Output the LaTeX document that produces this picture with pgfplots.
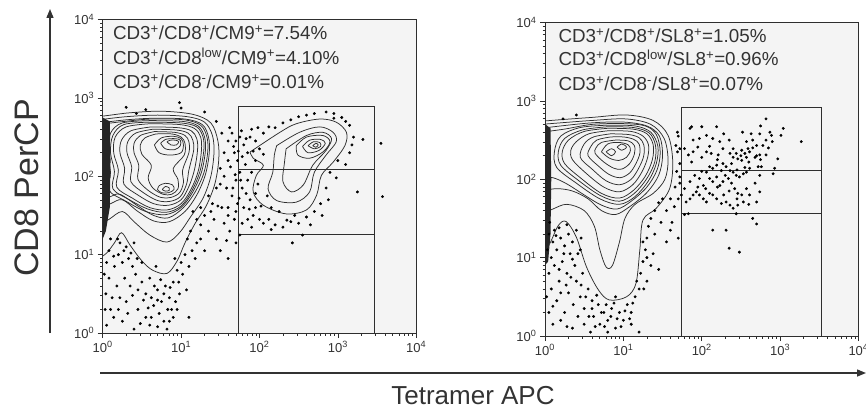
\documentclass[border=0pt]{standalone}
\usepackage{fontspec}
\setmainfont{Liberation Sans}
\usepackage{pgfplots}
\pgfplotsset{compat=1.18}
\usetikzlibrary{arrows.meta}
\definecolor{bg}{HTML}{F4F4F4}
\definecolor{ct}{HTML}{2E2E2E}
\definecolor{tx}{HTML}{333333}
\tikzset{lab/.style={anchor=base west, font=\fontsize{18.8}{20}\selectfont, text=tx, inner sep=0pt}}
\pgfplotsset{
 flow/.style={
  scale only axis, width=313.5pt, height=313.5pt,
  xmin=0,xmax=4,ymin=0,ymax=4,
  axis background/.style={fill=bg},
  axis line style={draw=ct, line width=0.8pt},
  xtick={0,1,2,3,4}, ytick={0,1,2,3,4},
  xticklabels={10\textsuperscript{0},10\textsuperscript{1},10\textsuperscript{2},10\textsuperscript{3},10\textsuperscript{4}},
  yticklabels={10\textsuperscript{0},10\textsuperscript{1},10\textsuperscript{2},10\textsuperscript{3},10\textsuperscript{4}},
  minor xtick={0.301,0.477,0.602,0.699,0.778,0.845,0.903,0.954,1.301,1.477,1.602,1.699,1.778,1.845,1.903,1.954,2.301,2.477,2.602,2.699,2.778,2.845,2.903,2.954,3.301,3.477,3.602,3.699,3.778,3.845,3.903,3.954},
  minor ytick={0.301,0.477,0.602,0.699,0.778,0.845,0.903,0.954,1.301,1.477,1.602,1.699,1.778,1.845,1.903,1.954,2.301,2.477,2.602,2.699,2.778,2.845,2.903,2.954,3.301,3.477,3.602,3.699,3.778,3.845,3.903,3.954},
  tick pos=left, tick align=outside,
  major tick length=5pt, minor tick length=2.5pt,
  tick style={draw=ct, line width=0.6pt},
  tick label style={font=\fontsize{13}{13}\selectfont, text=tx},
 },
 cont/.style={draw=ct, line width=0.75pt, smooth, tension=0.55, mark=none},
 dots/.style={only marks, mark=*, mark size=1.25pt, draw=black, fill=black},
 gate/.style={draw=ct, line width=0.9pt, mark=none, sharp plot},
}
\begin{document}
\begin{tikzpicture}
\useasboundingbox (0,0) rectangle (866pt,413pt);
% ---------------- left panel ----------------
\begin{axis}[flow, at={(102.7pt,80pt)}, anchor=south west]
% main population contours
\addplot[cont] coordinates {(-0.05,0.95)(0.05,1.02)(0.15,1.15)(0.24,1.28)(0.35,1.12)(0.5,0.92)(0.64,0.80)(0.82,0.76)(0.95,0.92)(1.05,1.15)(1.18,1.40)(1.32,1.62)(1.43,1.9)(1.48,2.2)(1.47,2.45)(1.38,2.68)(1.15,2.79)(0.75,2.83)(0.35,2.81)(0.1,2.78)(-0.05,2.76)};
\addplot[cont] coordinates {(-0.05,1.38)(0.08,1.45)(0.25,1.55)(0.4,1.42)(0.6,1.25)(0.82,1.16)(0.98,1.28)(1.12,1.48)(1.28,1.72)(1.38,2.0)(1.42,2.3)(1.4,2.52)(1.3,2.69)(1.08,2.76)(0.7,2.78)(0.3,2.76)(-0.05,2.72)};
\addplot[cont] coordinates {(-0.05,1.6)(0.1,1.65)(0.25,1.7)(0.45,1.55)(0.65,1.43)(0.85,1.42)(1.05,1.55)(1.2,1.76)(1.31,2.02)(1.36,2.3)(1.35,2.5)(1.27,2.66)(1.05,2.73)(0.65,2.74)(0.3,2.72)(-0.05,2.68)};
\addplot[cont] coordinates {(-0.05,1.7)(0.1,1.74)(0.22,1.77)(0.45,1.62)(0.65,1.5)(0.84,1.47)(1.03,1.6)(1.18,1.8)(1.29,2.04)(1.34,2.31)(1.33,2.5)(1.25,2.65)(1.04,2.72)(0.62,2.73)(0.28,2.7)(-0.05,2.66)};
\addplot[cont] coordinates {(0.6,2.71)(0.25,2.68)(0.1,2.55)(0.06,2.3)(0.1,2.05)(0.08,1.82)(0.3,1.68)(0.55,1.55)(0.8,1.51)(1.0,1.6)(1.15,1.8)(1.26,2.05)(1.31,2.32)(1.3,2.5)(1.22,2.64)(1.02,2.7)(0.6,2.71)};
\addplot[cont] coordinates {(0.6,2.69)(0.27,2.66)(0.13,2.52)(0.1,2.3)(0.15,2.06)(0.13,1.84)(0.34,1.7)(0.58,1.58)(0.81,1.54)(1.0,1.62)(1.14,1.82)(1.24,2.06)(1.29,2.33)(1.28,2.5)(1.2,2.63)(1.0,2.68)(0.6,2.69)};
\addplot[cont] coordinates {(0.6,2.67)(0.3,2.63)(0.16,2.5)(0.14,2.3)(0.2,2.08)(0.18,1.86)(0.38,1.72)(0.6,1.6)(0.82,1.57)(1.0,1.65)(1.13,1.84)(1.22,2.07)(1.26,2.33)(1.25,2.5)(1.17,2.61)(0.98,2.66)(0.6,2.67)};
\addplot[cont] coordinates {(0.62,2.63)(0.36,2.58)(0.24,2.46)(0.22,2.3)(0.28,2.1)(0.27,1.9)(0.45,1.76)(0.65,1.65)(0.84,1.63)(1.0,1.7)(1.1,1.87)(1.17,2.08)(1.21,2.33)(1.2,2.48)(1.13,2.58)(0.96,2.62)(0.62,2.63)};
\addplot[cont] coordinates {(0.64,2.6)(0.42,2.55)(0.32,2.44)(0.31,2.3)(0.37,2.12)(0.36,1.93)(0.52,1.79)(0.7,1.69)(0.86,1.68)(0.99,1.74)(1.07,1.9)(1.1,2.08)(1.16,2.33)(1.15,2.46)(1.09,2.55)(0.94,2.59)(0.64,2.6)};
\addplot[cont] coordinates {(0.66,2.57)(0.48,2.52)(0.4,2.42)(0.4,2.3)(0.46,2.14)(0.45,1.96)(0.58,1.82)(0.74,1.73)(0.87,1.73)(0.98,1.79)(1.03,1.92)(1.02,2.08)(1.1,2.3)(1.1,2.44)(1.05,2.52)(0.92,2.56)(0.66,2.57)};
\addplot[cont] coordinates {(0.68,2.54)(0.54,2.49)(0.48,2.4)(0.5,2.28)(0.62,2.14)(0.58,1.98)(0.64,1.85)(0.77,1.77)(0.88,1.77)(0.96,1.84)(0.96,1.96)(0.9,2.1)(1.04,2.27)(1.05,2.42)(1.0,2.5)(0.88,2.54)(0.68,2.54)};
\addplot[cont] coordinates {(0.66,2.4)(0.72,2.3)(0.86,2.27)(1.0,2.3)(1.03,2.4)(1.0,2.48)(0.9,2.51)(0.75,2.49)(0.66,2.4)};
\addplot[cont] coordinates {(0.74,2.42)(0.8,2.35)(0.92,2.34)(0.99,2.39)(0.99,2.46)(0.92,2.48)(0.8,2.47)(0.74,2.42)};
\addplot[cont] coordinates {(0.82,2.44)(0.87,2.40)(0.94,2.40)(0.97,2.44)(0.93,2.46)(0.86,2.46)(0.82,2.44)};
\addplot[cont] coordinates {(0.7,1.83)(0.75,1.79)(0.84,1.79)(0.91,1.83)(0.89,1.89)(0.8,1.91)(0.72,1.88)(0.7,1.83)};
\addplot[cont] coordinates {(0.76,1.83)(0.8,1.81)(0.85,1.82)(0.85,1.85)(0.8,1.87)(0.76,1.83)};
% tetramer+ population contours
\addplot[cont] coordinates {(1.88,2.31)(2.26,2.56)(2.47,2.67)(2.77,2.73)(2.98,2.69)(3.11,2.56)(3.09,2.39)(2.94,2.18)(2.79,2.01)(2.73,1.76)(2.60,1.57)(2.34,1.52)(2.05,1.63)(1.92,1.80)(1.96,2.01)(2.05,2.14)(1.92,2.23)(1.88,2.31)};
\addplot[cont] coordinates {(2.22,2.39)(2.51,2.56)(2.77,2.63)(2.94,2.56)(2.98,2.44)(2.85,2.27)(2.70,2.05)(2.64,1.80)(2.47,1.67)(2.22,1.69)(2.11,1.84)(2.17,2.05)(2.19,2.27)(2.22,2.39)};
\addplot[cont] coordinates {(2.34,2.35)(2.60,2.52)(2.81,2.56)(2.92,2.48)(2.85,2.33)(2.68,2.14)(2.56,1.89)(2.41,1.80)(2.30,1.93)(2.32,2.18)(2.34,2.35)};
\addplot[cont] coordinates {(2.47,2.39)(2.60,2.50)(2.81,2.52)(2.90,2.44)(2.81,2.31)(2.64,2.23)(2.49,2.27)(2.47,2.39)};
\addplot[cont] coordinates {(2.55,2.38)(2.64,2.46)(2.78,2.47)(2.84,2.42)(2.76,2.33)(2.62,2.30)(2.55,2.38)};
\addplot[cont] coordinates {(2.62,2.39)(2.69,2.44)(2.77,2.43)(2.78,2.38)(2.70,2.35)(2.62,2.39)};
\addplot[cont] coordinates {(2.68,2.39)(2.72,2.42)(2.75,2.40)(2.72,2.37)(2.68,2.39)};
% events piled on the axis
\addplot[fill=black!85, draw=none] coordinates {(-0.02,1.15)(0.04,1.3)(0.09,1.6)(0.1,2.2)(0.09,2.7)(-0.02,2.76)(-0.02,1.15)};
% single events
\addplot[dots] coordinates {
(0.05,0.9)(0.08,0.7)(0.04,0.5)(0.1,0.3)(0.05,0.1)(0.15,0.85)(0.2,1.0)(0.25,0.9)(0.3,1.1)(0.33,0.95)(0.38,0.85)(0.42,0.75)(0.28,0.7)(0.18,0.6)(0.35,0.6)(0.45,0.55)(0.5,0.65)(0.55,0.5)(0.6,0.7)(0.62,0.45)(0.65,0.35)(0.7,0.55)(0.72,0.25)(0.75,0.4)(0.8,0.6)(0.85,0.45)(0.88,0.3)(0.9,0.65)(0.95,0.8)(1.0,0.9)(1.05,1.0)(0.98,0.5)(0.55,0.2)(0.45,0.3)(0.3,0.4)(0.25,0.15)(0.6,0.1)(0.78,0.15)(1.1,0.2)(0.12,0.45)(0.4,1.15)(0.5,0.9)(0.22,1.15)(0.1,1.2)(0.68,0.85)(0.85,0.15)(0.92,0.95)(1.08,1.2)(1.12,1.3)(1.2,1.45)(1.15,1.55)(1.25,1.6)(1.3,1.5)(1.35,1.75)(1.4,1.65)(1.45,1.85)(1.5,1.9)(1.55,2.0)(1.5,2.1)(1.6,2.2)(1.55,2.3)(1.6,2.45)(1.52,2.55)(1.45,2.7)(1.3,2.82)(1.0,2.87)(0.55,2.85)(0.3,2.88)(1.25,1.2)(1.3,1.05)(1.18,0.95)(1.35,1.3)(0.95,0.3)(0.4,0.05)(0.82,0.05)(0.2,0.3)(0.98,2.94)(0.43,2.80)
(0.02,0.75)(0.03,0.3)(0.14,0.2)(0.22,0.45)(0.32,0.25)(0.38,0.48)(0.48,0.12)(0.52,0.42)(0.58,0.32)(0.66,0.6)(0.7,0.42)(0.74,0.68)(0.78,0.5)(0.83,0.3)(0.86,0.58)(0.9,0.2)(0.93,0.4)(0.97,0.65)(1.02,0.75)(1.07,0.55)(1.1,0.85)(1.14,1.05)(1.2,1.15)(0.08,1.05)(0.14,0.98)(0.19,1.2)(0.27,1.05)(0.36,1.02)(0.44,0.95)(1.25,1.38)(1.38,1.55)(1.42,1.45)(1.47,1.62)(0.62,0.2)(0.7,0.08)
(1.65,2.55)(1.7,2.45)(1.75,2.5)(1.8,2.4)(1.68,2.3)(1.72,2.2)(1.78,2.25)(1.85,2.3)(1.82,2.15)(1.75,2.05)(1.7,1.95)(1.78,1.85)(1.85,1.95)(1.9,2.05)(1.65,1.75)(1.72,1.65)(1.8,1.6)(1.88,1.7)(1.95,1.6)(1.6,1.6)(1.68,1.45)(1.78,1.4)(1.85,1.45)(1.92,1.5)(2.0,1.45)(2.05,1.4)(2.12,1.45)(2.2,1.38)(2.3,1.35)(2.4,1.42)(2.5,1.4)(2.6,1.48)(2.7,1.55)(2.78,1.65)(2.85,1.85)(2.9,2.05)(3.0,2.2)(3.15,2.3)(3.2,2.5)(3.15,2.65)(3.05,2.75)(2.95,2.8)(2.85,2.82)(2.6,2.78)(2.4,2.72)(2.2,2.62)(2.05,2.55)(1.95,2.45)(1.9,2.6)(1.88,2.5)(2.0,2.35)(1.95,2.2)(1.98,1.9)(2.1,1.75)(1.62,1.3)(1.55,1.4)(2.25,1.55)(2.55,1.25)(2.45,1.5)(3.32,2.47)(3.55,2.42)(3.57,1.74)(3.25,1.8)(2.42,1.15)(1.6,0.95)(1.7,1.15)(1.45,1.2)(1.5,1.05)
(1.62,2.62)(1.67,2.38)(1.73,2.32)(1.77,2.58)(1.83,2.48)(1.63,2.12)(1.69,2.02)(1.76,1.95)(1.83,1.78)(1.66,1.85)(1.74,1.72)(1.6,1.5)(1.7,1.55)(1.87,1.58)(1.95,1.78)(2.02,1.62)(2.15,1.6)(2.05,2.28)(1.92,2.32)(1.98,2.62)(2.12,2.63)(2.3,2.68)(2.5,2.76)(2.7,2.8)(2.95,2.74)(3.1,2.7)(3.18,2.4)(3.1,2.15)(2.98,1.98)(2.88,1.7)(2.8,1.5)(2.65,1.38)(2.35,1.44)(2.15,1.32)(1.9,1.35)(1.75,1.25)(1.58,1.18)(1.52,1.6)(1.58,1.85)};
% gates
\addplot[gate] coordinates {(1.736,0)(1.736,2.89)(3.47,2.89)(3.47,0)};
\addplot[gate] coordinates {(1.736,2.09)(3.47,2.09)};
\addplot[gate] coordinates {(1.736,1.26)(3.47,1.26)};
\node[lab] at (axis cs:0.13,3.745) {CD3\textsuperscript{+}/CD8\textsuperscript{+}/CM9\textsuperscript{+}=7.54\%};
\node[lab] at (axis cs:0.13,3.43) {CD3\textsuperscript{+}/CD8\textsuperscript{low}/CM9\textsuperscript{+}=4.10\%};
\node[lab] at (axis cs:0.13,3.12) {CD3\textsuperscript{+}/CD8\textsuperscript{-}/CM9\textsuperscript{+}=0.01\%};
\end{axis}
% ---------------- right panel ----------------
\begin{axis}[flow, at={(545pt,77pt)}, anchor=south west]
\addplot[cont] coordinates {(-0.05,1.05)(0.06,1.18)(0.17,1.41)(0.27,1.46)(0.40,1.26)(0.53,0.88)(0.68,0.59)(0.82,0.46)(1.04,0.50)(1.16,0.67)(1.21,1.10)(1.25,1.48)(1.42,1.63)(1.59,1.88)(1.63,2.22)(1.57,2.56)(1.38,2.75)(1.04,2.82)(0.61,2.79)(0.2,2.76)(-0.05,2.74)};
\addplot[cont] coordinates {(-0.05,1.55)(0.1,1.62)(0.28,1.68)(0.5,1.6)(0.63,1.4)(0.7,1.1)(0.78,0.88)(0.86,0.9)(0.95,1.2)(1.02,1.5)(1.15,1.68)(1.38,1.82)(1.53,2.0)(1.57,2.25)(1.52,2.52)(1.35,2.7)(1.03,2.77)(0.6,2.75)(0.2,2.72)(-0.05,2.7)};
\addplot[cont] coordinates {(-0.05,1.85)(0.15,1.88)(0.35,1.85)(0.55,1.75)(0.72,1.6)(0.9,1.55)(1.08,1.65)(1.3,1.83)(1.45,2.05)(1.5,2.3)(1.46,2.55)(1.3,2.68)(1.0,2.73)(0.6,2.72)(0.2,2.68)(-0.05,2.65)};
\addplot[cont] coordinates {(-0.05,2.02)(0.1,2.02)(0.28,1.94)(0.5,1.8)(0.72,1.67)(0.92,1.62)(1.1,1.72)(1.3,1.9)(1.43,2.12)(1.47,2.35)(1.42,2.57)(1.28,2.68)(1.0,2.71)(0.6,2.7)(0.25,2.64)(-0.05,2.6)};
\addplot[cont] coordinates {(0.8,2.69)(0.45,2.66)(0.2,2.55)(0.12,2.35)(0.15,2.15)(0.4,1.95)(0.7,1.75)(0.95,1.68)(1.15,1.78)(1.32,1.98)(1.42,2.2)(1.44,2.42)(1.35,2.6)(1.15,2.68)(0.8,2.69)};
\addplot[cont] coordinates {(0.8,2.67)(0.48,2.63)(0.25,2.52)(0.17,2.35)(0.2,2.18)(0.42,1.99)(0.71,1.79)(0.95,1.72)(1.14,1.82)(1.3,2.01)(1.4,2.22)(1.41,2.43)(1.33,2.59)(1.13,2.66)(0.8,2.67)};
\addplot[cont] coordinates {(0.8,2.65)(0.5,2.61)(0.3,2.5)(0.22,2.35)(0.25,2.2)(0.45,2.02)(0.72,1.82)(0.95,1.76)(1.13,1.86)(1.28,2.04)(1.37,2.25)(1.38,2.44)(1.3,2.58)(1.12,2.64)(0.8,2.65)};
\addplot[cont] coordinates {(0.82,2.62)(0.56,2.58)(0.4,2.48)(0.33,2.37)(0.35,2.25)(0.52,2.08)(0.75,1.9)(0.95,1.84)(1.12,1.93)(1.24,2.1)(1.31,2.28)(1.32,2.44)(1.25,2.55)(1.1,2.61)(0.82,2.62)};
\addplot[cont] coordinates {(0.84,2.58)(0.62,2.54)(0.5,2.45)(0.45,2.28)(0.6,2.13)(0.78,1.98)(0.95,1.93)(1.1,2.0)(1.2,2.15)(1.26,2.3)(1.26,2.44)(1.2,2.53)(1.07,2.57)(0.84,2.58)};
\addplot[cont] coordinates {(0.84,2.54)(0.66,2.5)(0.58,2.41)(0.55,2.3)(0.68,2.17)(0.82,2.06)(0.96,2.02)(1.08,2.08)(1.16,2.2)(1.21,2.33)(1.2,2.45)(1.13,2.51)(1.0,2.54)(0.84,2.54)};
\addplot[cont] coordinates {(0.9,2.5)(0.72,2.47)(0.65,2.4)(0.64,2.33)(0.75,2.22)(0.88,2.14)(0.98,2.13)(1.08,2.2)(1.14,2.32)(1.14,2.43)(1.06,2.49)(0.9,2.5)};
\addplot[cont] coordinates {(0.72,2.35)(0.82,2.27)(0.94,2.24)(1.04,2.28)(1.09,2.37)(1.06,2.44)(0.94,2.47)(0.8,2.45)(0.72,2.35)};
\addplot[cont] coordinates {(0.78,2.35)(0.85,2.30)(0.9,2.35)(0.85,2.39)(0.78,2.35)};
\addplot[cont] coordinates {(0.92,2.41)(0.98,2.37)(1.04,2.41)(0.98,2.45)(0.92,2.41)};
\addplot[fill=black!85, draw=none] coordinates {(-0.02,0.88)(0.04,0.95)(0.07,1.3)(0.08,2.0)(0.07,2.65)(-0.02,2.72)(-0.02,0.88)};
\addplot[dots] coordinates {
(0.05,1.3)(0.1,1.2)(0.15,1.1)(0.2,1.25)(0.25,1.15)(0.3,1.3)(0.35,1.2)(0.32,1.05)(0.22,0.95)(0.12,0.9)(0.05,0.8)(0.08,0.6)(0.18,0.7)(0.28,0.8)(0.38,0.9)(0.42,1.05)(0.4,0.7)(0.3,0.55)(0.15,0.45)(0.05,0.3)(0.1,0.15)(0.25,0.3)(0.45,0.5)(0.5,0.35)(0.55,0.6)(0.6,0.45)(0.62,0.25)(0.68,0.4)(0.7,0.15)(0.75,0.3)(0.8,0.2)(0.85,0.35)(0.9,0.1)(0.95,0.3)(1.0,0.2)(1.05,0.4)(1.1,0.3)(1.15,0.5)(1.2,0.6)(1.22,0.8)(1.25,0.95)(1.28,1.1)(1.3,1.25)(1.32,1.4)(1.35,1.5)(1.4,1.6)(1.45,1.7)(1.5,1.75)(1.3,0.7)(1.35,0.9)(1.55,1.2)(1.45,0.85)(0.5,0.15)(0.35,0.1)(0.8,0.05)(1.2,0.05)(0.2,0.55)(0.48,0.8)(0.58,0.05)(0.9,0.5)(0.12,1.35)(0.4,1.35)(1.62,1.45)(1.7,1.25)(1.78,1.55)(1.1,0.15)
(0.03,1.1)(0.08,1.0)(0.14,1.28)(0.18,0.85)(0.24,1.05)(0.27,0.65)(0.33,0.75)(0.36,0.4)(0.42,0.25)(0.46,0.65)(0.52,0.5)(0.56,0.25)(0.6,0.35)(0.64,0.12)(0.66,0.52)(0.72,0.3)(0.76,0.12)(0.78,0.4)(0.84,0.25)(0.88,0.42)(0.92,0.22)(0.97,0.12)(1.02,0.32)(1.08,0.22)(1.12,0.42)(1.17,0.7)(1.25,1.2)(1.3,1.0)(1.26,0.6)(1.38,1.05)(1.4,1.3)(1.48,1.45)(0.02,0.5)(0.1,0.38)(0.2,0.2)(0.28,0.12)(0.45,1.1)(0.35,0.98)(0.06,1.45)(0.18,1.38)(0.28,1.42)(0.46,1.25)(1.55,1.6)(1.6,1.35)
(0.23,2.77)(0.40,2.82)(1.69,2.60)(1.67,2.43)(1.70,2.55)(1.69,2.35)(1.72,2.2)(1.68,2.1)(1.72,1.95)(1.66,1.9)(1.7,1.75)(1.65,1.65)(1.6,1.75)
(2.82,2.77)(3.04,2.65)(3.01,2.56)(3.27,2.48)(2.87,2.60)(2.89,2.56)(2.74,2.58)(2.63,2.58)(2.65,2.50)(2.82,2.50)(2.78,2.43)(2.70,2.43)(2.57,2.48)(2.59,2.39)(2.61,2.35)(2.55,2.33)(2.51,2.37)(2.44,2.33)(2.40,2.39)(2.36,2.33)(2.40,2.28)(2.46,2.26)(2.51,2.24)(2.57,2.28)(2.68,2.28)(2.74,2.31)(2.82,2.31)(2.97,2.26)(2.93,2.14)(2.91,2.07)(2.76,2.16)(2.74,2.05)(2.72,2.16)(2.61,2.14)(2.57,2.09)(2.53,2.07)(2.48,2.03)(2.44,2.05)(2.40,2.09)(2.36,2.11)(2.31,2.16)(2.27,2.20)(2.25,2.11)(2.19,2.18)(2.14,2.14)(2.10,2.16)(2.06,2.09)(2.10,2.01)(2.14,1.97)(2.19,2.03)(2.23,1.92)(2.27,1.97)(2.34,2.01)(2.38,1.95)(2.42,1.88)(2.46,1.82)(2.51,1.80)(2.53,1.71)(2.46,1.67)(2.40,1.63)(2.36,1.67)(2.31,1.71)(2.25,1.69)(2.19,1.75)(2.14,1.80)(2.10,1.82)(2.06,1.71)(2.02,1.75)(1.97,1.80)(1.93,1.84)(1.89,1.80)(1.85,1.75)(1.80,1.71)(1.78,1.88)(1.85,1.97)(1.91,2.05)(1.97,2.01)(2.02,1.92)(1.87,2.22)(1.83,2.31)(1.78,2.39)(1.89,2.35)(1.95,2.41)(1.97,2.52)(1.89,2.50)(1.85,2.65)(1.87,2.67)(2.00,2.67)(2.06,2.56)(2.19,2.67)(2.14,2.52)(2.23,2.48)(2.27,2.39)(2.21,2.31)(2.12,2.33)(2.06,2.35)(2.00,2.28)(2.70,1.71)(2.74,1.84)(2.68,1.95)(2.57,1.88)(2.61,1.80)(2.44,1.56)(2.65,1.50)(2.70,1.43)(2.14,1.35)(2.31,1.35)(1.72,2.03)(1.72,2.39)(1.74,1.80)(1.83,1.56)(2.35,1.12)(2.48,1.07)
(2.2,2.25)(2.3,2.05)(2.38,2.2)(2.45,2.12)(2.5,2.3)(2.55,2.15)(2.6,2.22)(2.65,2.4)(2.7,2.3)(2.35,1.85)(2.28,1.8)(2.2,1.9)(2.05,1.88)(1.95,1.9)(2.0,2.1)(2.45,1.75)(2.6,1.68)(2.75,2.25)(2.85,2.4)(2.9,2.48)(2.75,2.68)(2.52,2.6)(2.35,2.5)(2.28,2.58)(2.1,2.42)};
\addplot[gate] coordinates {(1.745,0)(1.745,2.92)(3.53,2.92)(3.53,0)};
\addplot[gate] coordinates {(1.745,2.11)(3.53,2.11)};
\addplot[gate] coordinates {(1.745,1.57)(3.53,1.57)};
\node[lab] at (axis cs:0.17,3.745) {CD3\textsuperscript{+}/CD8\textsuperscript{+}/SL8\textsuperscript{+}=1.05\%};
\node[lab] at (axis cs:0.17,3.45) {CD3\textsuperscript{+}/CD8\textsuperscript{low}/SL8\textsuperscript{+}=0.96\%};
\node[lab] at (axis cs:0.17,3.13) {CD3\textsuperscript{+}/CD8\textsuperscript{-}/SL8\textsuperscript{+}=0.07\%};
\end{axis}
% axis arrows and titles
\draw[line width=1.4pt, draw=tx, -{Triangle[length=9pt,width=7pt]}] (50pt,80pt) -- (50pt,404pt);
\draw[line width=1.4pt, draw=tx, -{Triangle[length=9pt,width=7pt]}] (100pt,40pt) -- (866pt,40pt);
\node[rotate=90, font=\fontsize{34}{34}\selectfont, text=tx] at (27pt,225pt) {CD8 PerCP};
\node[font=\fontsize{26}{26}\selectfont, text=tx] at (473pt,17pt) {Tetramer APC};
\end{tikzpicture}
\end{document}
